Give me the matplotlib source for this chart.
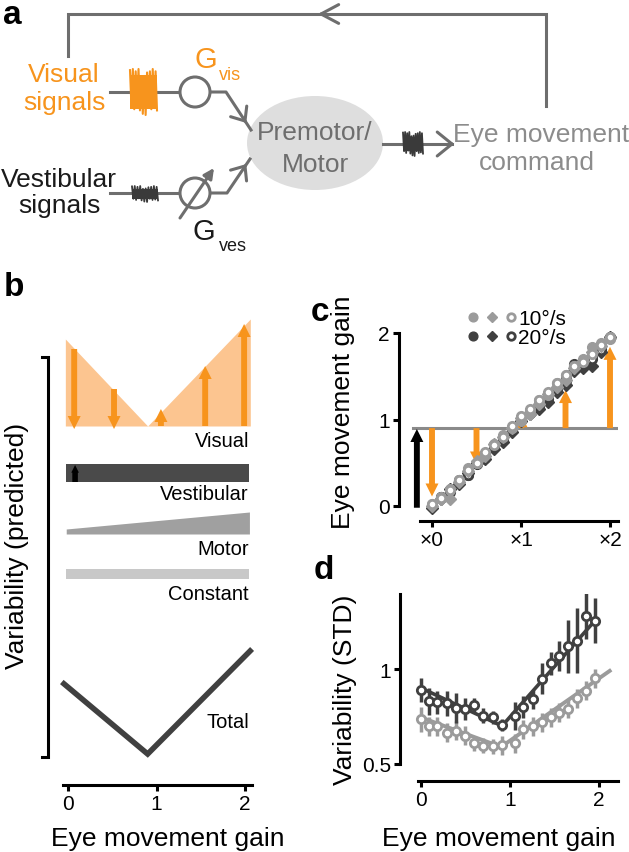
import numpy as np
import matplotlib
matplotlib.use('Agg')
import matplotlib.pyplot as plt
from matplotlib.patches import Ellipse, Circle
from matplotlib.legend_handler import HandlerTuple

plt.rcParams['font.family'] = ['Liberation Sans', 'DejaVu Sans']

# ------------------------------------------------------------------ data
# panel b : model (arbitrary units)
b_visual_gain = [-0.03, 0.90, 2.06]
b_visual_noise = [0.87, 0.00, 1.07]
b_arrow_gain = [0.07, 0.52, 1.05, 1.55, 1.99]
b_arrow_value = [0.77, 0.37, 0.17, 0.60, 1.02]
b_row_gain = [-0.02, 2.05]
b_vestibular = [0.18, 0.18]
b_motor = [0.05, 0.22]
b_constant = [0.10, 0.10]
b_ves_arrow_gain = 0.08
b_ves_arrow_value = 0.17
b_total_gain = [-0.07, 0.90, 2.08]
b_total = [1.03, 0.31, 1.36]
b_row_labels = ['Visual', 'Vestibular', 'Motor', 'Constant', 'Total']
gain_ticks = [0, 1, 2]

# panel c : eye movement gain vs. visual gain
c_gain = [0.0, 0.1, 0.2, 0.3, 0.4, 0.5, 0.6, 0.7, 0.8, 0.9, 1.0,
          1.1, 1.2, 1.3, 1.4, 1.5, 1.6, 1.7, 1.8, 1.9, 2.0]
c10_circle = [0.02, 0.10, 0.20, 0.30, 0.44, 0.50, 0.60, 0.72, 0.82, 0.90, 0.98,
              1.10, 1.22, 1.28, 1.42, 1.52, 1.62, 1.70, 1.84, 1.88, 1.93]
c10_diamond = [0.00, 0.08, 0.08, 0.28, 0.40, 0.52, 0.58, 0.72, 0.80, 0.90, 1.02,
               1.06, 1.18, 1.30, 1.38, 1.46, 1.60, 1.68, 1.78, 1.85, 1.94]
c10_open = [0.02, 0.09, 0.18, 0.30, 0.42, 0.50, 0.62, 0.70, 0.80, 0.92, 1.04,
            1.12, 1.22, 1.32, 1.42, 1.52, 1.62, 1.66, 1.76, 1.86, 1.95]
c20_circle = [0.00, 0.10, 0.18, 0.28, 0.36, 0.48, 0.56, 0.70, 0.76, 0.88, 1.00,
              1.08, 1.16, 1.24, 1.34, 1.44, 1.64, 1.66, 1.72, 1.82, 1.95]
c20_diamond = [-0.02, 0.08, 0.20, 0.26, 0.38, 0.50, 0.54, 0.66, 0.74, 0.86, 0.98,
               1.06, 1.12, 1.20, 1.32, 1.40, 1.56, 1.60, 1.62, 1.78, 1.95]
c20_open = [0.00, 0.10, 0.16, 0.30, 0.36, 0.50, 0.60, 0.70, 0.80, 0.88, 1.02,
            1.10, 1.18, 1.30, 1.36, 1.48, 1.62, 1.64, 1.70, 1.80, 1.94]
c_vestibular_gain = 0.9
c_arrow_gain = [0.0, 0.5, 1.0, 1.5, 2.0]
c_arrow_end = [0.11, 0.48, 1.06, 1.34, 1.84]
c_xticklabels = ['×0', '×1', '×2']
c_legend = ['10°/s', '20°/s']

# panel d : variability
d_gain = [0.00, 0.09, 0.18, 0.29, 0.39, 0.49, 0.60, 0.70, 0.81, 0.91,
          1.06, 1.15, 1.26, 1.36, 1.46, 1.55, 1.65, 1.75, 1.85, 1.95]
d20_std = [0.89, 0.83, 0.825, 0.82, 0.795, 0.79, 0.81, 0.755, 0.745, 0.705,
           0.752, 0.80, 0.84, 0.95, 1.03, 1.07, 1.12, 1.15, 1.28, 1.255]
d20_err = [0.065, 0.07, 0.06, 0.065, 0.08, 0.06, 0.035, 0.04, 0.035, 0.03,
           0.075, 0.06, 0.05, 0.08, 0.06, 0.08, 0.14, 0.17, 0.12, 0.12]
d10_std = [0.735, 0.70, 0.70, 0.665, 0.675, 0.65, 0.61, 0.596, 0.593, 0.60,
           0.61, 0.684, 0.698, 0.72, 0.745, 0.77, 0.79, 0.846, 0.886, 0.951]
d10_err = [0.065, 0.05, 0.05, 0.05, 0.05, 0.05, 0.04, 0.04, 0.04, 0.05,
           0.05, 0.05, 0.05, 0.05, 0.05, 0.05, 0.05, 0.05, 0.05, 0.05]
d20_fit_gain = [0.0, 0.91, 1.97]
d20_fit = [0.90, 0.70, 1.263]
d10_fit_gain = [0.0, 0.90, 2.12]
d10_fit = [0.745, 0.59, 0.99]
d_yticks = [0.5, 1.0]
d_yticklabels = ['0.5', '1']

# ------------------------------------------------------------------ style
W, H = 629, 853
ORANGE = '#f7941d'
LORANGE = '#fcc590'
DARK = '#404040'
LIGHT = '#9b9b9b'
LINE = '#6e6e6e'
TXTGRAY = '#8c8c8c'
AX_LW = 2.2
LBL = 19
TICK = 15

fig = plt.figure(figsize=(W / 100, H / 100), dpi=100)


def box(x0, y0, x1, y1):
    return [x0 / W, 1 - y1 / H, (x1 - x0) / W, (y1 - y0) / H]


# overlay in pixel coordinates for the diagram and free labels
ov = fig.add_axes([0, 0, 1, 1])
ov.set_xlim(0, W)
ov.set_ylim(H, 0)
ov.axis('off')


def chevron(ax, tip, direction, length, half, **kw):
    d = np.asarray(direction, float)
    ang = np.arctan2(d[1], d[0])
    for s in (1, -1):
        a = ang + np.pi + s * np.radians(half)
        ax.plot([tip[0], tip[0] + length * np.cos(a)],
                [tip[1], tip[1] + length * np.sin(a)], solid_capstyle='round', **kw)


def burst(ax, x0, x1, yc, amp, color, body=0.55, lw=1.3):
    k = np.array([0.95, 0.6, 1.0, 0.75, 0.9, 0.55, 1.0, 0.8, 0.65, 0.95,
                  0.7, 1.0, 0.85, 0.6, 0.9, 0.75, 1.0, 0.7, 0.9, 0.8])
    n = len(k)
    xs = np.linspace(x0, x1, n)
    ys = yc + amp * k * np.where(np.arange(n) % 2 == 0, -1, 1)
    ax.fill_between(xs, yc - body * amp, yc + body * amp, color=color, lw=0, zorder=3)
    ax.plot(xs, ys, color=color, lw=lw, zorder=3)


lk = dict(color=LINE, lw=2.2)
# feedback loop
ov.plot([68, 68, 546, 546], [57, 15, 15, 107], solid_joinstyle='miter', **lk)
chevron(ov, (321, 15), (-1, 0), 20, 28, **lk)
# visual pathway
ov.plot([110, 180], [93, 93], **lk)
burst(ov, 130, 157, 93, 23, ORANGE, body=0.75, lw=1.5)
ov.add_patch(Circle((195, 93), 15, fc='white', ec=LINE, lw=2.2, zorder=4))
ov.plot([210, 226, 251], [93, 93, 131], **lk)
chevron(ov, (245, 122), (25, 38), 15, 40, **lk)
# vestibular pathway
ov.plot([110, 180], [194, 194], **lk)
burst(ov, 132, 158, 195, 8, '#3a3a3a', body=0.6, lw=1.3)
ov.add_patch(Circle((195, 194), 15, fc='white', ec=LINE, lw=2.2, zorder=4))
ov.annotate('', xy=(214, 169), xytext=(180, 219),
            arrowprops=dict(arrowstyle='-|>,head_length=0.6,head_width=0.3',
                            lw=2.2, color=LINE, shrinkA=0, shrinkB=0), zorder=5)
ov.plot([210, 227, 250], [194, 194, 160], **lk)
chevron(ov, (245, 167), (23, -34), 15, 40, **lk)
# premotor / motor
ov.add_patch(Ellipse((315, 144), 136, 94, fc='#dedede', ec='none', zorder=1))
ov.text(315, 140, 'Premotor/', fontsize=LBL, color=LINE, ha='center', va='baseline', zorder=5)
ov.text(315, 172, 'Motor', fontsize=LBL, color=LINE, ha='center', va='baseline', zorder=5)
ov.plot([383, 452], [145, 145], **lk)
burst(ov, 403, 423, 145, 12, '#3a3a3a', body=0.6, lw=1.3)
chevron(ov, (452, 145), (1, 0), 19, 39, **lk)
ov.text(453, 142, 'Eye movement', fontsize=LBL, color=TXTGRAY, ha='left', va='baseline')
ov.text(537, 170, 'command', fontsize=LBL, color=TXTGRAY, ha='center', va='baseline')
# input labels
ov.text(64, 82, 'Visual', fontsize=LBL, color=ORANGE, ha='center', va='baseline')
ov.text(64, 110, 'signals', fontsize=LBL, color=ORANGE, ha='center', va='baseline')
ov.text(59, 187, 'Vestibular', fontsize=LBL, color='#1a1a1a', ha='center', va='baseline')
ov.text(59, 213, 'signals', fontsize=LBL, color='#1a1a1a', ha='center', va='baseline')
ov.text(195, 68, 'G', fontsize=21, color=ORANGE, ha='left', va='baseline')
ov.text(219, 80, 'vis', fontsize=13, color=ORANGE, ha='left', va='baseline')
ov.text(193, 240, 'G', fontsize=21, color='#1a1a1a', ha='left', va='baseline')
ov.text(219, 251, 'ves', fontsize=13, color='#1a1a1a', ha='left', va='baseline')

# panel letters and free axis labels
ov.text(3, 0, 'a', fontsize=24, fontweight='bold', ha='left', va='top')
for letter, (x, y) in zip('bcd', [(4, 296), (311, 321), (314, 579)]):
    ov.text(x, y, letter, fontsize=24, fontweight='bold', ha='left', va='baseline')
ov.plot([42, 48, 48, 42], [358, 358, 758, 758], color='black', lw=2.2, solid_joinstyle='miter')
ov.text(17, 546, 'Variability (predicted)', fontsize=LBL, rotation=90, ha='center', va='center')
ov.text(168, 846, 'Eye movement gain', fontsize=LBL, ha='center', va='baseline')
ov.text(343, 412, 'Eye movement gain', fontsize=LBL, rotation=90, ha='center', va='center')
ov.text(345, 690, 'Variability (STD)', fontsize=LBL, rotation=90, ha='center', va='center')
ov.text(499, 846, 'Eye movement gain', fontsize=LBL, ha='center', va='baseline')


def style_axes(ax):
    ax.set_facecolor('none')
    for s in ['top', 'right']:
        ax.spines[s].set_visible(False)
    for s in ['left', 'bottom']:
        ax.spines[s].set_linewidth(AX_LW)
    ax.tick_params(direction='out', length=4.5, width=AX_LW, labelsize=TICK, pad=2)


def varrow(ax, x, y0, y1, color, scale=17, tail=0.25, z=3):
    ax.annotate('', xy=(x, y1), xytext=(x, y0),
                arrowprops=dict(arrowstyle=f'simple,head_length=0.55,head_width=0.55,tail_width={tail}',
                                mutation_scale=scale, color=color, lw=0, shrinkA=0, shrinkB=0),
                annotation_clip=False, zorder=z)


# ------------------------------------------------------------------ panel b
px_per_gain_b = 88.5
axb = fig.add_axes(box(40, 310, 262, 786))
style_axes(axb)
axb.spines['left'].set_visible(False)
axb.set_xlim((40 - 68) / px_per_gain_b, (262 - 68) / px_per_gain_b)
axb.set_ylim(0, 4.76)
axb.spines['bottom'].set_bounds((63 - 68) / px_per_gain_b, (252 - 68) / px_per_gain_b)
axb.set_yticks([])
axb.set_xticks(gain_ticks)
axb.set_xticklabels([str(t) for t in gain_ticks])

base_vis, base_ves, base_mot, base_con = 3.59, 3.03, 2.51, 2.06
axb.fill_between(b_visual_gain, base_vis, base_vis + np.array(b_visual_noise), color=LORANGE, lw=0, zorder=1)
for g, v in zip(b_arrow_gain, b_arrow_value):
    if g < b_visual_gain[1]:
        varrow(axb, g, base_vis + v, base_vis - 0.03, ORANGE)
    else:
        varrow(axb, g, base_vis, base_vis + v, ORANGE)
axb.fill_between(b_row_gain, base_ves, base_ves + np.array(b_vestibular), color='#4a4a4a', lw=0)
varrow(axb, b_ves_arrow_gain, base_ves, base_ves + b_ves_arrow_value, 'black', scale=10, tail=0.4)
axb.fill_between(b_row_gain, base_mot, base_mot + np.array(b_motor), color='#a0a0a0', lw=0)
axb.fill_between(b_row_gain, base_con, base_con + np.array(b_constant), color='#c8c8c8', lw=0)
axb.plot(b_total_gain, b_total, color=DARK, lw=4, solid_joinstyle='miter', solid_capstyle='butt')
for lab, y in zip(b_row_labels, [3.39, 2.86, 2.31, 1.86, 0.58]):
    axb.text(2.045, y, lab, fontsize=14.5, ha='right', va='baseline')

# ------------------------------------------------------------------ panel c
pxg, pxy = 89.0, 86.5
axc = fig.add_axes(box(399, 318, 618, 522))
style_axes(axc)
axc.set_xlim((399 - 432) / pxg, (618 - 432) / pxg)
axc.set_ylim((507 - 522) / pxy, (507 - 318) / pxy)
axc.spines['left'].set_bounds(0, 2)
axc.spines['bottom'].set_bounds((420 - 432) / pxg, (618 - 432) / pxg)
axc.set_yticks([0, 1, 2])
axc.set_xticks(gain_ticks)
axc.set_xticklabels(c_xticklabels)

axc.plot([(413 - 432) / pxg, (617 - 432) / pxg], [c_vestibular_gain] * 2, color='#8a8a8a', lw=2.2, zorder=1)
varrow(axc, -0.17, -0.02, c_vestibular_gain - 0.01, 'black', z=2)
for g, e in zip(c_arrow_gain, c_arrow_end):
    varrow(axc, g, c_vestibular_gain, e, ORANGE, z=2)

ms_c = 7.0
ms_d = 6.0
h20d, = axc.plot(c_gain, c20_diamond, 'D', ms=ms_d, color=DARK, mec=DARK, zorder=3)
h20c, = axc.plot(c_gain, c20_circle, 'o', ms=ms_c, color=DARK, zorder=3)
h20o, = axc.plot(c_gain, c20_open, 'o', ms=ms_c - 1, mfc='white', mec=DARK, mew=2.0, zorder=3)
h10d, = axc.plot(c_gain, c10_diamond, 'D', ms=ms_d, color=LIGHT, zorder=4)
h10c, = axc.plot(c_gain, c10_circle, 'o', ms=ms_c, color=LIGHT, zorder=4)
h10o, = axc.plot(c_gain, c10_open, 'o', ms=ms_c - 1, mfc='white', mec=LIGHT, mew=2.0, zorder=4)
leg = axc.legend([(h10c, h10d, h10o), (h20c, h20d, h20o)], c_legend,
                 handler_map={tuple: HandlerTuple(ndivide=None, pad=0.4)},
                 loc='upper left', bbox_to_anchor=(468 / W, 1 - 310 / H), bbox_transform=fig.transFigure,
                 frameon=False, fontsize=15, handlelength=2.3, handletextpad=0.1,
                 labelspacing=0.0, borderpad=0.0, borderaxespad=0.0, markerscale=0.9)

# ------------------------------------------------------------------ panel d
pdx, pdy = 89.0, 190.0
axd = fig.add_axes(box(400, 595, 618, 782))
style_axes(axd)
axd.set_xlim((400 - 421) / pdx, (618 - 421) / pdx)
axd.set_ylim(0.5 - (782 - 765) / pdy, 0.5 + (765 - 595) / pdy)
axd.spines['left'].set_bounds(0.5, 0.5 + (765 - 595) / pdy)
axd.spines['bottom'].set_bounds((418 - 421) / pdx, (618 - 421) / pdx)
axd.set_yticks(d_yticks)
axd.set_yticklabels(d_yticklabels)
axd.set_xticks(gain_ticks)
axd.set_xticklabels([str(t) for t in gain_ticks])

axd.plot(d10_fit_gain, d10_fit, color=LIGHT, lw=2.8, zorder=2)
axd.errorbar(d_gain, d10_std, yerr=d10_err, fmt='o', ms=6, mfc='white', mec=LIGHT, mew=2.0,
             ecolor=LIGHT, elinewidth=2.5, capsize=0, zorder=3)
axd.plot(d20_fit_gain, d20_fit, color=DARK, lw=2.6, zorder=4)
axd.errorbar(d_gain, d20_std, yerr=d20_err, fmt='o', ms=6, mfc='white', mec=DARK, mew=2.0,
             ecolor=DARK, elinewidth=2.5, capsize=0, zorder=5)

fig.savefig('out.png', dpi=100)
